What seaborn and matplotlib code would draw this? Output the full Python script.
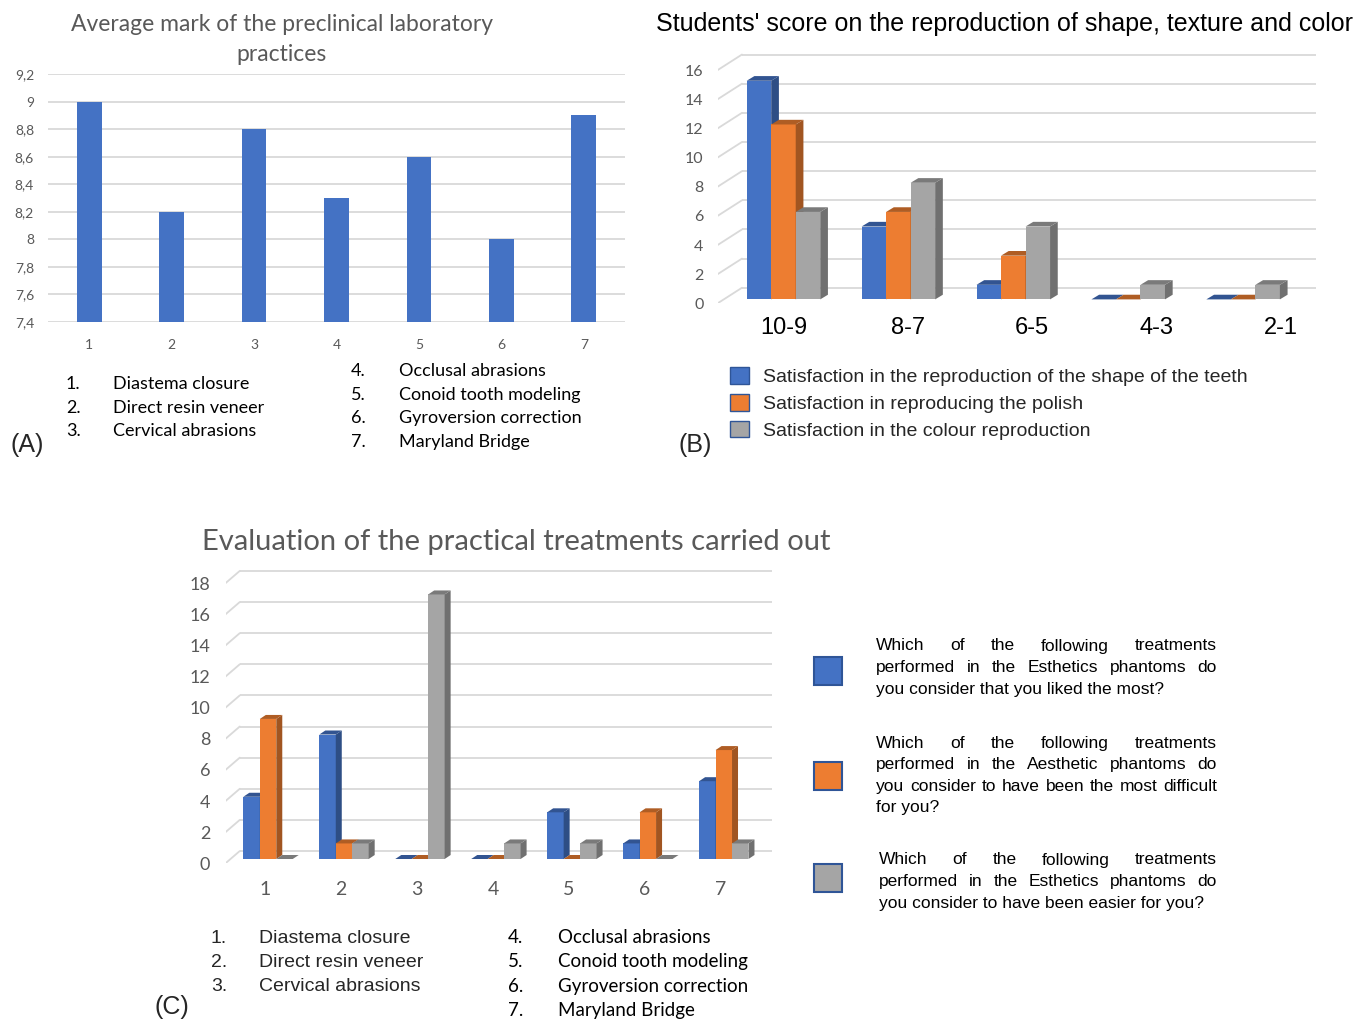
import numpy as np
import pandas as pd
import matplotlib
matplotlib.use("Agg")
import matplotlib.pyplot as plt
from matplotlib.patches import Polygon, Rectangle, Patch
from matplotlib.transforms import ScaledTranslation
import seaborn as sns

# ---------------- data ----------------
treatment_ids = ["1", "2", "3", "4", "5", "6", "7"]
treatment_names = ["Diastema closure", "Direct resin veneer", "Cervical abrasions",
                   "Occlusal abrasions", "Conoid tooth modeling",
                   "Gyroversion correction", "Maryland Bridge"]
avg_marks = [9.0, 8.2, 8.8, 8.3, 8.6, 8.0, 8.9]
a_yticks = [7.4, 7.6, 7.8, 8.0, 8.2, 8.4, 8.6, 8.8, 9.0, 9.2]

score_ranges = ["10-9", "8-7", "6-5", "4-3", "2-1"]
shape_sat = [15, 5, 1, 0, 0]
polish_sat = [12, 6, 3, 0, 0]
colour_sat = [6, 8, 5, 1, 1]
satisfaction_series = ["Satisfaction in the reproduction of the shape of the teeth",
                       "Satisfaction in reproducing the polish",
                       "Satisfaction in the colour reproduction"]
b_yticks = [0, 2, 4, 6, 8, 10, 12, 14, 16]

liked_most = [4, 8, 0, 0, 3, 1, 5]
most_difficult = [9, 1, 0, 0, 0, 3, 7]
easiest = [0, 1, 17, 1, 1, 0, 1]
question_series = ["liked the most", "most difficult", "easier"]
question_lines = [
    ["Which of the following treatments",
     "performed in the Esthetics phantoms do",
     "you consider that you liked the most?"],
    ["Which of the following treatments",
     "performed in the Aesthetic phantoms do",
     "you consider to have been the most difficult",
     "for you?"],
    ["Which of the following treatments",
     "performed in the Esthetics phantoms do",
     "you consider to have been easier for you?"],
]
c_yticks = [0, 2, 4, 6, 8, 10, 12, 14, 16, 18]

BLUE, ORANGE, GRAY = "#4472C4", "#ED7D31", "#A5A5A5"
PALETTE = [BLUE, ORANGE, GRAY]
GRID = "#d9d9d9"
TXT = "#595959"
EDGE = "#2F5597"

sns.set_theme(style="white")
plt.rcParams['font.family'] = ['Lato', 'DejaVu Sans']
ARIAL = ['Liberation Sans', 'DejaVu Sans']

W, H = 1356, 1021
fig = plt.figure(figsize=(W / 100, H / 100), dpi=100)
fig.patch.set_facecolor("white")


def fx(px):
    return px / W


def fy(py):
    return 1 - py / H


def ax_rect(l, t, r, b):
    return [l / W, 1 - b / H, (r - l) / W, (b - t) / H]


def clean(ax):
    for s in ax.spines.values():
        s.set_visible(False)
    ax.set_xlabel("")
    ax.set_ylabel("")


def draw_wall(ax, ticks, x_back, dy_back, dy_front):
    x0, x1 = ax.get_xlim()
    for v in ticks:
        ax.plot([x_back, x1], [v + dy_back] * 2, color=GRID, lw=1.3, zorder=0,
                solid_capstyle="butt")
        ax.plot([x0, x_back], [v + dy_front, v + dy_back], color=GRID, lw=1.3,
                zorder=0)


def add_depth(ax, ddx, ddy):
    bars = sorted(ax.patches, key=lambda p: p.get_x())
    for i, p in enumerate(bars):
        z = 2 + i * 0.01
        x0, w, y0, h = p.get_x(), p.get_width(), p.get_y(), p.get_height()
        x1, top = x0 + w, y0 + h
        fc = np.array(p.get_facecolor()[:3])
        p.set_zorder(z)
        ax.add_patch(Polygon([(x1, y0), (x1, top), (x1 + ddx, top + ddy), (x1 + ddx, y0 + ddy)],
                             closed=True, fc=fc * 0.68, ec="none", zorder=z))
        ax.add_patch(Polygon([(x0, top), (x1, top), (x1 + ddx, top + ddy), (x0 + ddx, top + ddy)],
                             closed=True, fc=fc * 0.74, ec="none", zorder=z))


def justified(lines, x0, x1, y0, dy, size):
    r = fig.canvas.get_renderer()
    for i, line in enumerate(lines):
        y = y0 + i * dy
        words = line.split()
        if i == len(lines) - 1 or len(words) == 1:
            fig.text(fx(x0), fy(y), line, ha="left", va="center", fontsize=size,
                     family=ARIAL, color="black")
            continue
        texts = [fig.text(0, fy(y), wd, ha="left", va="center", fontsize=size,
                          family=ARIAL, color="black") for wd in words]
        widths = [t.get_window_extent(r).width for t in texts]
        gap = (x1 - x0 - sum(widths)) / (len(words) - 1)
        x = x0
        for t, wdt in zip(texts, widths):
            t.set_x(fx(x))
            x += wdt + gap


# ---------------- Panel A ----------------
axA = fig.add_axes(ax_rect(48, 74, 625, 322))
sns.barplot(x=treatment_ids, y=avg_marks, color=BLUE, width=0.30, linewidth=0,
            saturation=1, errorbar=None, ax=axA)
axA.set_xlim(-0.5, 6.5)
axA.set_ylim(7.4, 9.2)
axA.set_yticks(a_yticks)
axA.set_yticklabels([f"{v:.1f}".rstrip("0").rstrip(".").replace(".", ",") for v in a_yticks])
axA.yaxis.grid(True, color=GRID, lw=1.3)
axA.xaxis.grid(False)
axA.set_axisbelow(True)
clean(axA)
axA.tick_params(axis="y", length=0, labelsize=10, labelcolor=TXT, pad=10)
axA.tick_params(axis="x", length=0, labelsize=10, labelcolor=TXT, pad=12)

fig.text(fx(282), fy(39.5), "Average mark of the preclinical laboratory\npractices",
         ha="center", va="center", fontsize=16.5, color=TXT, linespacing=1.5)

for i, name in enumerate(treatment_names[:3]):
    y = 384 + i * 23.5
    fig.text(fx(66), fy(y), f"{i + 1}.", va="center", fontsize=13, color="black")
    fig.text(fx(113), fy(y), name, va="center", fontsize=13, color="black")
for i, name in enumerate(treatment_names[3:]):
    y = 371 + i * 23.7
    fig.text(fx(351), fy(y), f"{i + 4}.", va="center", fontsize=13, color="black")
    fig.text(fx(399), fy(y), name, va="center", fontsize=13, color="black")
fig.text(fx(11), fy(445), "(A)", va="center", ha="left", fontsize=18, family=ARIAL)

# ---------------- Panel B ----------------
axB = fig.add_axes(ax_rect(717.5, 51.6, 1315.5, 303.4))
dfB = pd.DataFrame({
    "range": score_ranges * 3,
    "series": np.repeat(satisfaction_series, len(score_ranges)),
    "count": shape_sat + polish_sat + colour_sat,
})
sns.barplot(data=dfB, x="range", y="count", hue="series", order=score_ranges,
            hue_order=satisfaction_series, palette=PALETTE, width=0.64, linewidth=0,
            saturation=1, errorbar=None, legend=False, ax=axB)
axB.set_xlim(-0.574, 4.63)
axB.set_ylim(-0.275, 17.0)
clean(axB)
axB.grid(False)
draw_wall(axB, b_yticks, -0.361, 0.80, -0.275)
add_depth(axB, 0.067, 0.32)
axB.set_yticks([v - 0.275 for v in b_yticks])
axB.set_yticklabels([str(v) for v in b_yticks])
axB.tick_params(axis="y", length=0, labelsize=11.5, labelcolor=TXT, pad=10)
axB.tick_params(axis="x", length=0, labelsize=17, labelcolor="black", pad=10)
for k, lab in enumerate(axB.get_xticklabels()):
    lab.set_fontfamily(ARIAL)
    lab.set_transform(lab.get_transform() + ScaledTranslation(k * 0.095, 0, fig.dpi_scale_trans))

fig.text(fx(1005), fy(24), "Students' score on the reproduction of shape, texture and color",
         ha="center", va="center", fontsize=18, family=ARIAL, color="black")

handles = [Patch(fc=c, ec=EDGE, lw=1.0, label=s) for c, s in zip(PALETTE, satisfaction_series)]
axB.legend(handles=handles, loc="upper left", bbox_to_anchor=(fx(730), fy(367)),
           bbox_transform=fig.transFigure, frameon=False,
           prop={"family": ARIAL, "size": 14}, handlelength=0.98, handleheight=0.95,
           handletextpad=0.72, labelspacing=0.4, borderpad=0, borderaxespad=0)
fig.text(fx(678), fy(445), "(B)", va="center", ha="left", fontsize=18, family=ARIAL)

# ---------------- Panel C ----------------
axC = fig.add_axes(ax_rect(225.5, 568, 772.4, 863.3))
dfC = pd.DataFrame({
    "treatment": treatment_ids * 3,
    "question": np.repeat(question_series, len(treatment_ids)),
    "count": liked_most + most_difficult + easiest,
})
sns.barplot(data=dfC, x="treatment", y="count", hue="question", order=treatment_ids,
            hue_order=question_series, palette=PALETTE, width=0.65, linewidth=0,
            saturation=1, errorbar=None, legend=False, ax=axC)
axC.set_xlim(-0.56, 6.64)
axC.set_ylim(-0.276, 18.7)
clean(axC)
axC.grid(False)
draw_wall(axC, c_yticks, -0.372, 0.514, -0.276)
add_depth(axC, 0.079, 0.257)
axC.set_yticks([v - 0.276 for v in c_yticks])
axC.set_yticklabels([str(v) for v in c_yticks])
axC.tick_params(axis="y", length=0, labelsize=13, labelcolor=TXT, pad=11)
axC.tick_params(axis="x", length=0, labelsize=14, labelcolor=TXT, pad=13)
for lab in axC.get_xticklabels():
    lab.set_transform(lab.get_transform() + ScaledTranslation(-0.03, 0, fig.dpi_scale_trans))

fig.text(fx(516), fy(542), "Evaluation of the practical treatments carried out",
         ha="center", va="center", fontsize=21, color=TXT)

for c, top in zip(PALETTE, [657, 762, 864]):
    fig.add_artist(Rectangle((fx(814), fy(top + 28)), 28 / W, 28 / H,
                             transform=fig.transFigure, fc=c, ec=EDGE, lw=1.5))
for lines, x0, y0 in zip(question_lines, [876, 876, 879], [646, 743, 860]):
    justified(lines, x0, 1217, y0, 21.6, 12.5)

for i, name in enumerate(treatment_names[:3]):
    y = 938 + i * 24
    fig.text(fx(211), fy(y), f"{i + 1}.", va="center", fontsize=14, family=ARIAL)
    fig.text(fx(259), fy(y), name, va="center", fontsize=14, family=ARIAL)
for i, name in enumerate(treatment_names[3:]):
    y = 937 + i * 24.6
    fig.text(fx(508), fy(y), f"{i + 4}.", va="center", fontsize=13.5, color="black")
    fig.text(fx(558), fy(y), name, va="center", fontsize=13.5, color="black")
fig.text(fx(154), fy(1007), "(C)", va="center", ha="left", fontsize=18, family=ARIAL)

fig.savefig("out.png", dpi=100, facecolor="white")
